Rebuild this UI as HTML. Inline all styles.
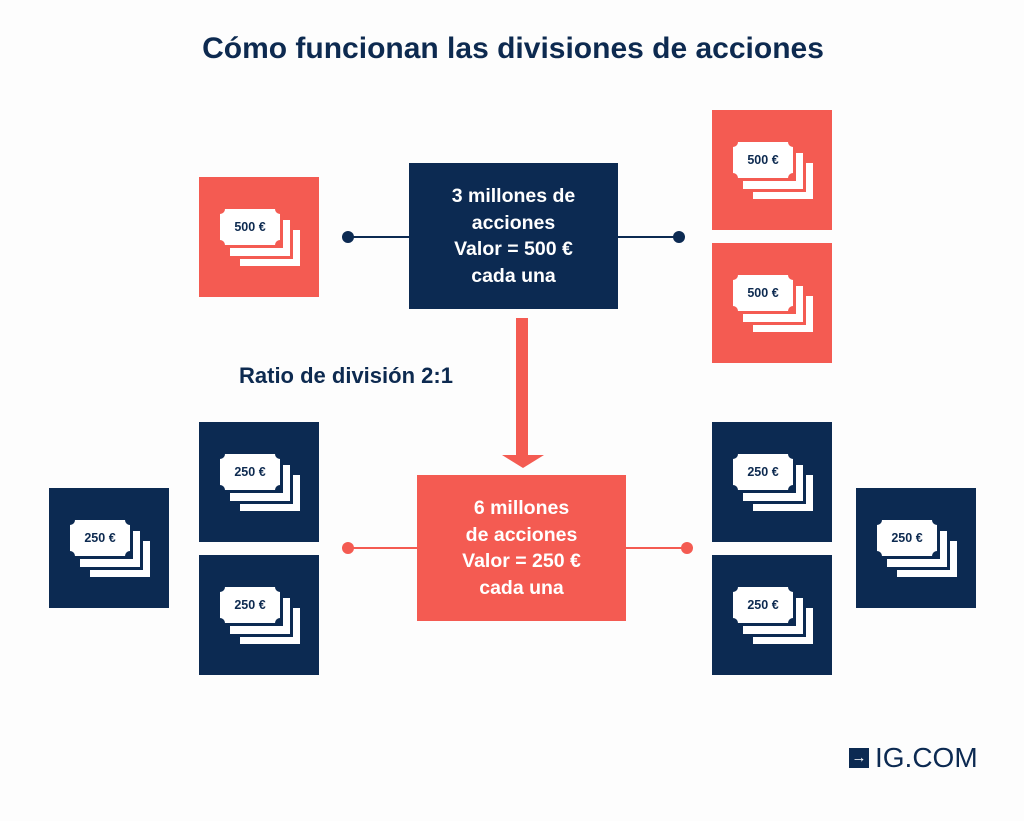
<!DOCTYPE html>
<html><head><meta charset="utf-8"><style>
body{margin:0;width:1024px;height:821px;background:#fdfdfd;position:relative;overflow:hidden;font-family:"Liberation Sans",sans-serif;}
.a{position:absolute;}
.t{font-weight:bold;color:#0d2a50;}
.card{position:absolute;width:120px;height:120px;}
.red{background:#f45b52;}
.navy{background:#0c2a52;}
.l{position:absolute;width:60px;height:36px;background:#fff;}
.red .l{border:3px solid #f45b52;margin:-3px}
.navy .l{border:3px solid #0c2a52;margin:-3px}
.l1{left:21px;top:32px;font-size:12.5px;font-weight:bold;color:#0d2a50;text-align:center;line-height:36px;overflow:hidden}
.l2{left:31px;top:43px}
.l3{left:41px;top:53px}
.c{position:absolute;width:14px;height:14px;border-radius:50%;box-sizing:border-box;border:2px solid #fff;}
.red .c{background:#f45b52}.navy .c{background:#0c2a52}
.box{position:absolute;color:#fff;font-weight:bold;font-size:19.5px;line-height:26.5px;text-align:center;display:flex;align-items:center;justify-content:center;}
.dot{position:absolute;width:12px;height:12px;border-radius:50%;}
</style></head><body>
<div class="a t" style="left:0;width:1026px;top:32px;text-align:center;font-size:30px;">Cómo funcionan las divisiones de acciones</div>

<div class="a" style="left:348px;top:236px;width:331px;height:2px;background:#0c2a52"></div>
<div class="dot" style="left:342px;top:231px;background:#0c2a52"></div>
<div class="dot" style="left:673px;top:231px;background:#0c2a52"></div>
<div class="box navy" style="left:409px;top:163px;width:209px;height:146px;">3 millones de<br>acciones<br>Valor = 500 €<br>cada una</div>

<div class="a" style="left:516px;top:318px;width:12px;height:138px;background:#f45b52"></div>
<div class="a" style="left:502px;top:455px;width:0;height:0;border-left:21px solid transparent;border-right:21px solid transparent;border-top:13px solid #f45b52"></div>
<div class="a t" style="left:239px;top:363px;font-size:22px;">Ratio de división 2:1</div>

<div class="a" style="left:348px;top:547px;width:340px;height:2px;background:#f45b52"></div>
<div class="dot" style="left:342px;top:542px;background:#f45b52"></div>
<div class="dot" style="left:681px;top:542px;background:#f45b52"></div>
<div class="box red" style="left:417px;top:475px;width:209px;height:146px;">6 millones<br>de acciones<br>Valor = 250 €<br>cada una</div>

<div class="card red" style="left:199px;top:177px"><div class="l l3"></div><div class="l l2"></div><div class="l l1">500 €<div class="c" style="left:-7px;top:-7px"></div><div class="c" style="right:-7px;top:-7px"></div><div class="c" style="left:-7px;bottom:-7px"></div><div class="c" style="right:-7px;bottom:-7px"></div></div></div>
<div class="card red" style="left:712px;top:110px"><div class="l l3"></div><div class="l l2"></div><div class="l l1">500 €<div class="c" style="left:-7px;top:-7px"></div><div class="c" style="right:-7px;top:-7px"></div><div class="c" style="left:-7px;bottom:-7px"></div><div class="c" style="right:-7px;bottom:-7px"></div></div></div>
<div class="card red" style="left:712px;top:243px"><div class="l l3"></div><div class="l l2"></div><div class="l l1">500 €<div class="c" style="left:-7px;top:-7px"></div><div class="c" style="right:-7px;top:-7px"></div><div class="c" style="left:-7px;bottom:-7px"></div><div class="c" style="right:-7px;bottom:-7px"></div></div></div>

<div class="card navy" style="left:199px;top:422px"><div class="l l3"></div><div class="l l2"></div><div class="l l1">250 €<div class="c" style="left:-7px;top:-7px"></div><div class="c" style="right:-7px;top:-7px"></div><div class="c" style="left:-7px;bottom:-7px"></div><div class="c" style="right:-7px;bottom:-7px"></div></div></div>
<div class="card navy" style="left:199px;top:555px"><div class="l l3"></div><div class="l l2"></div><div class="l l1">250 €<div class="c" style="left:-7px;top:-7px"></div><div class="c" style="right:-7px;top:-7px"></div><div class="c" style="left:-7px;bottom:-7px"></div><div class="c" style="right:-7px;bottom:-7px"></div></div></div>
<div class="card navy" style="left:49px;top:488px"><div class="l l3"></div><div class="l l2"></div><div class="l l1">250 €<div class="c" style="left:-7px;top:-7px"></div><div class="c" style="right:-7px;top:-7px"></div><div class="c" style="left:-7px;bottom:-7px"></div><div class="c" style="right:-7px;bottom:-7px"></div></div></div>
<div class="card navy" style="left:712px;top:422px"><div class="l l3"></div><div class="l l2"></div><div class="l l1">250 €<div class="c" style="left:-7px;top:-7px"></div><div class="c" style="right:-7px;top:-7px"></div><div class="c" style="left:-7px;bottom:-7px"></div><div class="c" style="right:-7px;bottom:-7px"></div></div></div>
<div class="card navy" style="left:712px;top:555px"><div class="l l3"></div><div class="l l2"></div><div class="l l1">250 €<div class="c" style="left:-7px;top:-7px"></div><div class="c" style="right:-7px;top:-7px"></div><div class="c" style="left:-7px;bottom:-7px"></div><div class="c" style="right:-7px;bottom:-7px"></div></div></div>
<div class="card navy" style="left:856px;top:488px"><div class="l l3"></div><div class="l l2"></div><div class="l l1">250 €<div class="c" style="left:-7px;top:-7px"></div><div class="c" style="right:-7px;top:-7px"></div><div class="c" style="left:-7px;bottom:-7px"></div><div class="c" style="right:-7px;bottom:-7px"></div></div></div>

<div class="a" style="left:849px;top:748px;width:20px;height:20px;background:#0c2a52;color:#fff;font-size:15px;line-height:19px;text-align:center;font-weight:bold">→</div>
<div class="a" style="left:875px;top:742px;font-size:28px;color:#0c2a52;line-height:32px;">IG.COM</div>
</body></html>
